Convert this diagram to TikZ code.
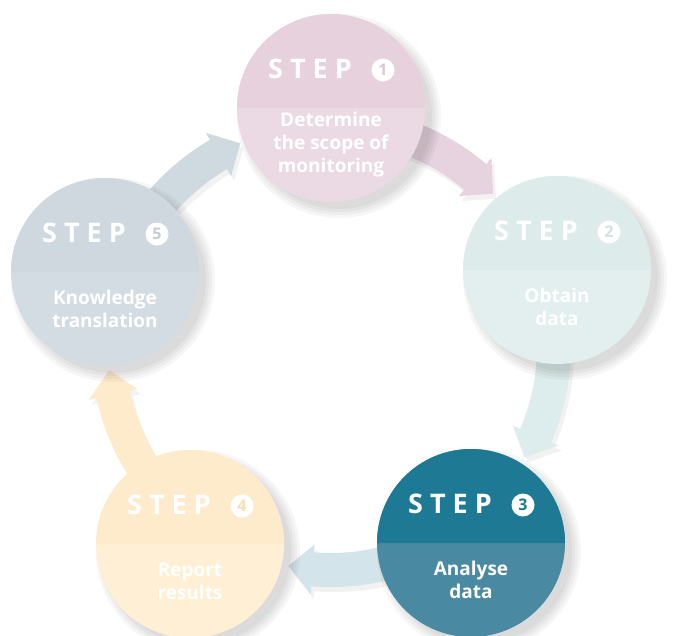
\documentclass[tikz,border=0pt]{standalone}
\usepackage{fontspec}
\setmainfont{Open Sans}
\usetikzlibrary{calc}
\definecolor{c1t}{HTML}{E6D1DD}\definecolor{c1b}{HTML}{EBDAE4}\definecolor{c1n}{HTML}{DFC6D4}
\definecolor{c2t}{HTML}{DDEBEA}\definecolor{c2b}{HTML}{E2EFEE}\definecolor{c2n}{HTML}{D2E3E2}
\definecolor{c3t}{HTML}{1E7A94}\definecolor{c3b}{HTML}{4A89A2}\definecolor{c3n}{HTML}{1E7A94}
\definecolor{c4t}{HTML}{FDEBCB}\definecolor{c4b}{HTML}{FEEFD5}\definecolor{c4n}{HTML}{F8DFB3}
\definecolor{c5t}{HTML}{CFD8DF}\definecolor{c5b}{HTML}{D4DCE3}\definecolor{c5n}{HTML}{C3CDD5}
\definecolor{a51}{HTML}{CFD9E0}\definecolor{a12}{HTML}{E6D3DF}\definecolor{a23}{HTML}{DDEDED}
\definecolor{a34}{HTML}{D3E4EA}\definecolor{a45}{HTML}{FDEBCB}
\tikzset{
  disc/.style={circle, minimum size=188pt, inner sep=0pt, draw=none},
  steptxt/.style={font=\bfseries\fontsize{27}{27}\selectfont, text=white, inner sep=0pt, anchor=base},
  bodytxt/.style={font=\bfseries\fontsize{19}{23}\selectfont, text=white, inner sep=0pt, align=center},
  numc/.style={circle, fill=white, minimum size=23pt, inner sep=0pt, font=\bfseries\fontsize{16}{16}\selectfont},
}
\newcommand\ringarrow[3]{%
  \pgfmathsetmacro\hb{#3-6.3}%
  \fill[black, opacity=0.05] ([shift={(#2:240)},xshift=3,yshift=-5]ring) arc[start angle=#2, end angle=\hb, radius=240] -- ([shift={(\hb:248)},xshift=3,yshift=-5]ring) -- ([shift={(#3:223)},xshift=3,yshift=-5]ring) -- ([shift={(\hb:198)},xshift=3,yshift=-5]ring) -- ([shift={(\hb:206)},xshift=3,yshift=-5]ring) arc[start angle=\hb, end angle=#2, radius=206] -- cycle;
  \fill[#1] ([shift={(#2:240)}]ring) arc[start angle=#2, end angle=\hb, radius=240] -- ([shift={(\hb:248)}]ring) -- ([shift={(#3:223)}]ring) -- ([shift={(\hb:198)}]ring) -- ([shift={(\hb:206)}]ring) arc[start angle=\hb, end angle=#2, radius=206] -- cycle;}
\newcommand\discshadow[1]{%
  \foreach \rr in {102,99,96,93} {\fill[black, opacity=0.035] ([xshift=8,yshift=-8]#1) circle[radius=\rr];}}
\newcommand\tophalf[2]{%
  \fill[#2] ([xshift=-94]#1) arc[start angle=180, end angle=360, radius=94] -- cycle;}
\begin{document}
\begin{tikzpicture}[x=1pt,y=-1pt]
\fill[white] (0,0) rectangle (674,635);
\useasboundingbox (0,0) rectangle (674,635);
\coordinate (ring) at (331,347);
% arrows
\ringarrow{a51}{208}{246}
\ringarrow{a12}{-80}{-43.4}
\ringarrow{a23}{-9}{29.7}
\ringarrow{a34}{64}{101}
\ringarrow{a45}{135}{174}
% discs
\coordinate (p1) at (331,108);
\coordinate (p2) at (557,270);
\coordinate (p3) at (471,543);
\coordinate (p4) at (190,544);
\coordinate (p5) at (105,272);
\discshadow{p1}\discshadow{p2}\discshadow{p3}\discshadow{p4}\discshadow{p5}
\node[disc, fill=c1b] (s1) at (p1) {};
\node[disc, fill=c2b] (s2) at (p2) {};
\node[disc, fill=c3b] (s3) at (p3) {};
\node[disc, fill=c4b] (s4) at (p4) {};
\node[disc, fill=c5b] (s5) at (p5) {};
\tophalf{s1.center}{c1t}
\tophalf{s2.center}{c2t}
\tophalf{s3.center}{c3t}
\tophalf{s4.center}{c4t}
\tophalf{s5.center}{c5t}
% step labels
\foreach \i/\n in {1/1,2/2,3/3,4/4,5/5}{
  \node[steptxt] (st\i) at ([xshift=-21,yshift=29.5]s\i.center) {S\kern7pt T\kern7pt E\kern7pt P};
  \node[numc, text=c\i n] (n\i) at ([xshift=52,yshift=38]s\i.center) {\n};
}
\node[bodytxt] (b1) at ([yshift=-37]s1.center) {Determine\\the scope of\\monitoring};
\node[bodytxt] (b2) at ([yshift=-37]s2.center) {Obtain\\data};
\node[bodytxt] (b3) at ([yshift=-37]s3.center) {Analyse\\data};
\node[bodytxt] (b4) at ([yshift=-37]s4.center) {Report\\results};
\node[bodytxt] (b5) at ([yshift=-37]s5.center) {Knowledge\\translation};
\end{tikzpicture}
\end{document}
